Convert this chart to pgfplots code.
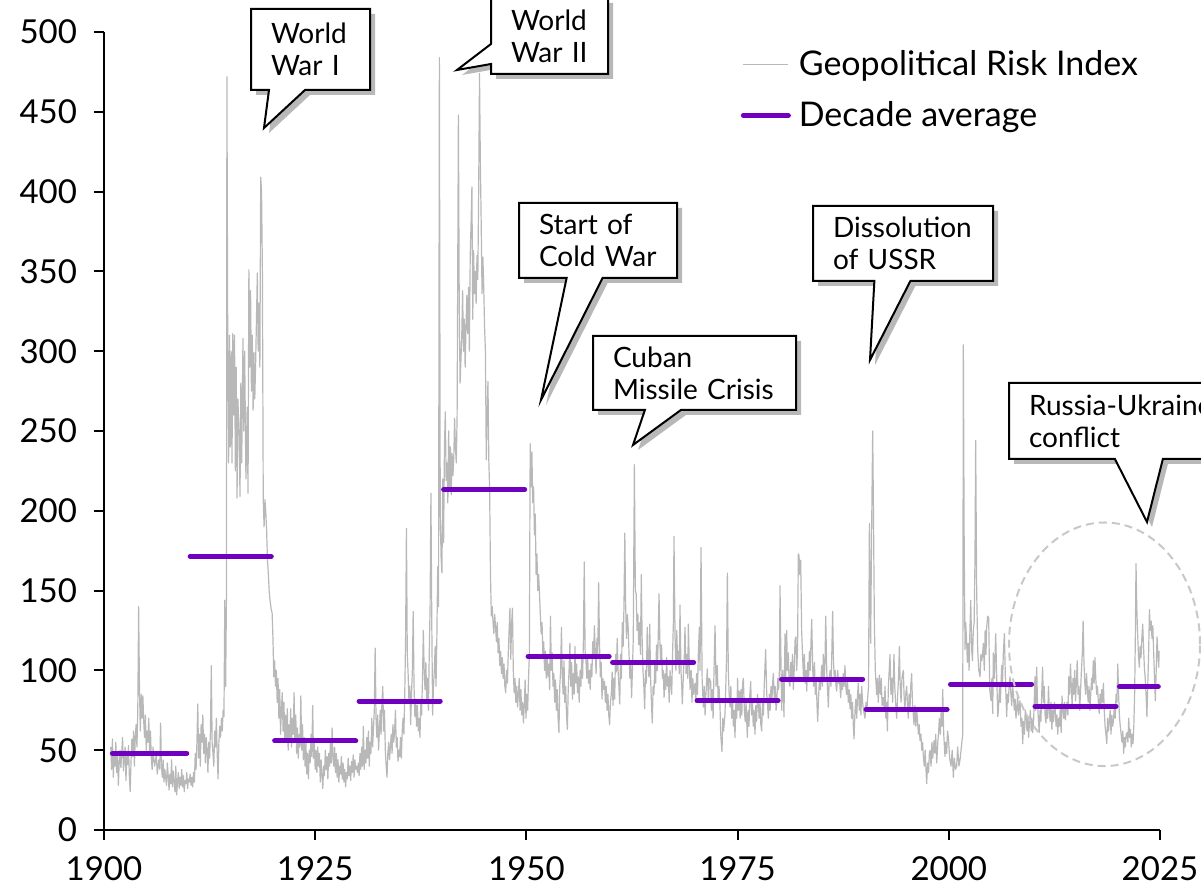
\documentclass[border=0pt]{standalone}
\usepackage{fontspec}
\setmainfont{Lato}
\usepackage{pgfplots}
\usepackage{pgfplotstable}
\pgfplotsset{compat=1.18}
\usetikzlibrary{shapes.callouts,shadows}
\definecolor{gprgray}{RGB}{184,184,184}
\definecolor{gprpurple}{RGB}{112,0,192}
\definecolor{ellgray}{RGB}{200,200,200}

\pgfplotstableread{
x y
1900.8 52
1900.9 38
1901.0 57
1901.1 33
1901.2 48
1901.3 40
1901.4 55
1901.5 36
1901.6 47
1901.7 28
1901.8 42
1901.9 50
1902.0 39
1902.2 58
1902.3 37
1902.4 45
1902.5 52
1902.6 31
1902.7 46
1902.8 41
1902.9 53
1903.0 34
1903.1 24
1903.2 43
1903.3 57
1903.4 46
1903.5 62
1903.6 40
1903.7 58
1903.8 66
1903.9 52
1904.0 75
1904.1 140
1904.2 88
1904.3 62
1904.4 85
1904.5 70
1904.6 84
1904.7 68
1904.8 58
1904.9 72
1905.0 50
1905.1 62
1905.2 55
1905.3 70
1905.4 48
1905.5 62
1905.6 45
1905.7 38
1905.8 52
1905.9 44
1906.0 40
1906.2 48
1906.3 35
1906.5 44
1906.6 38
1906.7 67
1906.8 40
1906.9 33
1907.0 44
1907.1 30
1907.2 38
1907.4 28
1907.5 42
1907.6 34
1907.7 25
1907.8 35
1907.9 29
1908.0 44
1908.1 27
1908.2 37
1908.3 30
1908.4 24
1908.5 40
1908.6 22
1908.7 30
1908.8 36
1908.9 26
1909.0 33
1909.1 28
1909.2 38
1909.3 27
1909.4 34
1909.5 24
1909.6 31
1909.7 29
1909.8 36
1909.9 26
1910.0 32
1910.1 30
1910.2 35
1910.3 28
1910.4 33
1910.5 27
1910.6 36
1910.7 30
1910.8 48
1910.9 38
1911.0 55
1911.1 79
1911.2 45
1911.3 60
1911.4 40
1911.5 66
1911.6 55
1911.7 72
1911.8 48
1911.9 60
1912.0 42
1912.1 58
1912.2 50
1912.3 36
1912.4 55
1912.5 45
1912.6 62
1912.7 103
1912.8 55
1912.9 48
1913.0 40
1913.1 62
1913.2 52
1913.3 70
1913.4 48
1913.5 32
1913.6 55
1913.7 65
1913.8 58
1913.9 70
1914.0 62
1914.1 75
1914.2 71
1914.3 144
1914.4 90
1914.5 150
1914.55 472
1914.65 300
1914.75 230
1914.85 310
1914.95 240
1915.05 300
1915.15 230
1915.25 311
1915.35 260
1915.45 310
1915.55 225
1915.65 290
1915.75 208
1915.85 270
1916.0 246
1916.1 209
1916.2 280
1916.3 230
1916.45 308
1916.55 250
1916.65 300
1916.8 220
1916.95 265
1917.05 211
1917.15 351
1917.25 290
1917.35 338
1917.45 275
1917.55 310
1917.65 263
1917.75 299
1917.85 270
1917.95 293
1918.05 320
1918.15 349
1918.25 300
1918.35 330
1918.45 290
1918.55 409
1918.65 400
1918.75 350
1918.85 207
1918.95 190
1919.05 207
1919.15 199
1919.25 188
1919.35 169
1919.45 161
1919.55 150
1919.65 144
1919.8 138
1919.9 136
1920.0 120
1920.1 96
1920.2 106
1920.3 90
1920.4 100
1920.5 80
1920.6 95
1920.7 70
1920.8 88
1920.9 60
1921.0 75
1921.1 86
1921.2 62
1921.3 80
1921.4 55
1921.5 72
1921.6 58
1921.7 76
1921.8 50
1921.9 66
1922.0 58
1922.1 76
1922.2 52
1922.3 70
1922.4 60
1922.5 86
1922.6 55
1922.7 72
1922.8 48
1922.9 64
1923.0 45
1923.1 60
1923.2 52
1923.3 84
1923.4 50
1923.5 66
1923.6 44
1923.7 58
1923.8 40
1923.9 55
1924.0 35
1924.1 48
1924.2 32
1924.3 50
1924.4 42
1924.5 60
1924.6 46
1924.7 78
1924.8 45
1924.9 55
1925.0 38
1925.1 50
1925.2 36
1925.3 52
1925.4 40
1925.5 48
1925.6 30
1925.7 44
1925.8 35
1925.9 26
1926.0 40
1926.1 34
1926.2 50
1926.3 38
1926.4 46
1926.5 32
1926.6 48
1926.7 40
1926.8 55
1926.9 42
1927.0 64
1927.1 45
1927.2 40
1927.3 52
1927.4 36
1927.5 48
1927.6 33
1927.7 44
1927.8 30
1927.9 40
1928.0 35
1928.1 46
1928.2 32
1928.3 42
1928.4 30
1928.5 38
1928.6 27
1928.7 36
1928.8 32
1928.9 45
1929.0 34
1929.1 40
1929.2 31
1929.3 43
1929.4 36
1929.5 47
1929.6 33
1929.7 44
1929.8 38
1929.9 40
1930.0 36
1930.1 42
1930.2 34
1930.3 48
1930.4 38
1930.5 52
1930.6 40
1930.7 65
1930.8 38
1930.9 50
1931.0 42
1931.1 58
1931.2 45
1931.3 62
1931.4 40
1931.5 55
1931.6 48
1931.7 70
1931.8 52
1931.9 64
1932.0 75
1932.1 114
1932.2 70
1932.3 58
1932.4 72
1932.5 50
1932.6 62
1932.7 75
1932.8 60
1932.9 80
1933.0 90
1933.1 62
1933.2 75
1933.3 50
1933.4 40
1933.5 33
1933.6 48
1933.7 55
1933.8 44
1933.9 52
1934.0 60
1934.1 48
1934.2 66
1934.3 55
1934.4 62
1934.5 75
1934.6 52
1934.7 58
1934.8 43
1934.9 50
1935.0 46
1935.1 58
1935.2 45
1935.3 62
1935.4 70
1935.5 60
1935.6 85
1935.7 120
1935.8 189
1935.9 110
1936.0 98
1936.1 80
1936.2 90
1936.3 66
1936.4 85
1936.5 100
1936.6 137
1936.7 90
1936.8 71
1936.9 82
1937.0 65
1937.1 78
1937.2 62
1937.3 70
1937.4 58
1937.5 80
1937.6 72
1937.7 95
1937.8 125
1937.9 100
1938.0 88
1938.1 105
1938.2 80
1938.3 95
1938.4 75
1938.5 110
1938.6 140
1938.7 211
1938.8 130
1938.9 72
1939.0 90
1939.1 100
1939.2 115
1939.3 90
1939.4 120
1939.5 165
1939.6 140
1939.7 484
1939.8 200
1939.9 171
1940.0 161
1940.1 220
1940.2 180
1940.3 240
1940.4 262
1940.5 219
1940.6 230
1940.7 205
1940.8 250
1940.9 215
1941.0 240
1941.1 210
1941.2 236
1941.3 222
1941.4 232
1941.5 258
1941.6 240
1941.7 230
1941.8 260
1941.95 448
1942.05 330
1942.15 280
1942.25 294
1942.35 310
1942.45 338
1942.55 300
1942.65 320
1942.75 290
1942.85 315
1942.95 335
1943.05 311
1943.15 340
1943.25 300
1943.35 360
1943.45 380
1943.55 403
1943.65 320
1943.75 363
1943.85 336
1943.95 350
1944.05 330
1944.15 360
1944.25 345
1944.35 400
1944.45 474
1944.55 418
1944.65 380
1944.75 336
1944.85 359
1944.95 340
1945.05 315
1945.15 300
1945.25 232
1945.35 260
1945.45 281
1945.55 232
1945.65 213
1945.75 159
1945.85 134
1945.95 140
1946.05 130
1946.15 123
1946.25 135
1946.35 127
1946.45 118
1946.55 130
1946.65 111
1946.75 120
1946.85 103
1946.95 112
1947.05 98
1947.15 108
1947.25 95
1947.35 104
1947.45 90
1947.55 86
1947.65 100
1947.75 92
1947.85 110
1947.95 125
1948.05 139
1948.15 107
1948.25 130
1948.35 139
1948.45 100
1948.55 86
1948.65 95
1948.75 80
1948.85 90
1948.95 77
1949.05 85
1949.15 95
1949.25 75
1949.35 88
1949.45 72
1949.55 80
1949.65 67
1949.75 78
1949.85 94
1949.95 70
1950.05 85
1950.15 75
1950.25 95
1950.35 110
1950.45 242
1950.55 215
1950.65 237
1950.75 205
1950.85 215
1950.95 185
1951.05 198
1951.15 160
1951.25 173
1951.35 150
1951.45 160
1951.55 148
1951.65 135
1951.75 123
1951.85 130
1951.95 110
1952.05 118
1952.15 100
1952.25 112
1952.35 95
1952.45 108
1952.55 96
1952.65 104
1952.75 88
1952.85 134
1952.95 100
1953.05 111
1953.15 90
1953.25 98
1953.35 80
1953.45 94
1953.55 75
1953.65 88
1953.75 70
1953.85 61
1953.95 90
1954.05 100
1954.15 127
1954.25 96
1954.35 85
1954.45 106
1954.55 80
1954.65 90
1954.75 72
1954.85 63
1954.95 88
1955.05 100
1955.15 117
1955.25 90
1955.35 105
1955.45 82
1955.55 98
1955.65 85
1955.75 115
1955.85 92
1955.95 104
1956.05 86
1956.15 96
1956.25 80
1956.35 100
1956.45 90
1956.55 110
1956.65 95
1956.75 120
1956.85 168
1956.95 112
1957.05 106
1957.15 95
1957.25 110
1957.35 92
1957.45 100
1957.55 88
1957.65 104
1957.75 96
1957.85 118
1957.95 108
1958.05 128
1958.15 112
1958.25 98
1958.35 120
1958.45 110
1958.55 155
1958.65 118
1958.75 96
1958.85 105
1958.95 82
1959.05 95
1959.15 88
1959.25 93
1959.35 80
1959.45 90
1959.55 75
1959.65 85
1959.75 72
1959.85 66
1959.95 80
1960.05 85
1960.15 99
1960.25 78
1960.35 95
1960.45 82
1960.55 110
1960.65 99
1960.75 120
1960.85 100
1960.95 90
1961.05 79
1961.15 110
1961.25 95
1961.35 130
1961.45 115
1961.55 140
1961.65 186
1961.75 140
1961.85 120
1961.95 135
1962.05 127
1962.15 110
1962.25 95
1962.35 105
1962.45 83
1962.55 100
1962.65 120
1962.78 229
1962.9 150
1963.0 148
1963.1 125
1963.2 135
1963.3 116
1963.4 130
1963.5 110
1963.6 160
1963.7 120
1963.8 100
1963.9 90
1964.0 76
1964.1 100
1964.2 92
1964.3 127
1964.4 105
1964.5 96
1964.6 129
1964.7 95
1964.8 80
1964.9 67
1965.0 90
1965.1 85
1965.2 105
1965.3 92
1965.4 116
1965.5 100
1965.6 120
1965.7 148
1965.8 118
1965.9 105
1966.0 116
1966.1 95
1966.2 100
1966.3 83
1966.4 98
1966.5 88
1966.6 108
1966.7 90
1966.8 96
1966.9 80
1967.0 100
1967.1 92
1967.2 85
1967.3 110
1967.4 130
1967.47 184
1967.6 120
1967.7 100
1967.8 125
1967.9 105
1968.0 112
1968.1 98
1968.18 141
1968.3 100
1968.4 88
1968.46 79
1968.6 100
1968.7 110
1968.77 127
1968.9 98
1969.0 110
1969.1 95
1969.17 129
1969.3 100
1969.37 88
1969.5 100
1969.6 80
1969.7 95
1969.8 85
1969.96 92
1970.05 80
1970.15 98
1970.25 85
1970.35 110
1970.47 127
1970.55 100
1970.67 177
1970.8 95
1970.94 77
1971.05 90
1971.15 72
1971.25 85
1971.42 101
1971.55 80
1971.65 95
1971.81 93
1971.9 75
1972.0 88
1972.1 70
1972.2 98
1972.33 128
1972.45 90
1972.6 103
1972.7 80
1972.8 90
1972.92 77
1973.0 60
1973.15 49
1973.25 70
1973.35 62
1973.51 73
1973.6 90
1973.7 110
1973.79 161
1973.9 100
1974.0 85
1974.1 77
1974.2 90
1974.3 70
1974.4 82
1974.5 65
1974.6 75
1974.69 58
1974.8 80
1974.9 70
1975.0 95
1975.1 75
1975.21 87
1975.3 70
1975.4 88
1975.5 72
1975.6 92
1975.68 95
1975.8 75
1975.9 68
1976.0 80
1976.15 58
1976.25 75
1976.35 65
1976.45 85
1976.55 93
1976.65 72
1976.75 82
1976.85 65
1976.95 75
1977.06 60
1977.15 78
1977.25 68
1977.35 85
1977.46 79
1977.55 70
1977.65 80
1977.75 66
1977.85 62
1977.95 80
1978.05 72
1978.15 90
1978.32 113
1978.45 85
1978.55 78
1978.64 70
1978.75 85
1978.85 75
1978.95 90
1979.05 80
1979.15 92
1979.23 98
1979.35 82
1979.45 90
1979.55 75
1979.63 79
1979.75 95
1979.85 88
1979.95 100
1980.02 153
1980.12 110
1980.22 75
1980.35 100
1980.49 71
1980.61 123
1980.7 95
1980.81 125
1980.9 100
1981.0 111
1981.1 92
1981.2 90
1981.3 105
1981.4 95
1981.5 110
1981.6 88
1981.7 100
1981.8 119
1981.9 121
1982.0 100
1982.1 115
1982.19 173
1982.27 172
1982.37 160
1982.47 169
1982.58 125
1982.7 108
1982.8 95
1982.9 110
1983.0 92
1983.1 100
1983.18 87
1983.3 105
1983.4 95
1983.5 112
1983.6 100
1983.7 120
1983.77 132
1983.9 100
1984.0 90
1984.1 105
1984.2 85
1984.3 95
1984.4 78
1984.48 68
1984.6 85
1984.7 95
1984.8 88
1984.95 103
1985.05 90
1985.15 110
1985.25 95
1985.35 105
1985.43 134
1985.55 100
1985.65 88
1985.74 77
1985.85 95
1985.95 100
1986.05 90
1986.15 110
1986.25 137
1986.35 105
1986.45 95
1986.55 100
1986.65 90
1986.73 87
1986.85 100
1986.95 92
1987.05 95
1987.2 83
1987.3 95
1987.4 88
1987.5 98
1987.6 90
1987.71 103
1987.8 90
1987.9 85
1988.0 95
1988.1 80
1988.2 88
1988.31 76
1988.4 85
1988.5 70
1988.6 80
1988.7 65
1988.78 57
1988.9 75
1989.0 82
1989.1 70
1989.2 85
1989.29 92
1989.4 75
1989.5 85
1989.6 72
1989.69 90
1989.8 80
1989.9 75
1990.08 70
1990.2 80
1990.3 75
1990.4 83
1990.5 90
1990.6 192
1990.68 150
1990.75 117
1990.85 180
1990.99 250
1991.08 200
1991.19 130
1991.3 100
1991.46 85
1991.55 95
1991.65 80
1991.78 97
1991.9 85
1992.0 95
1992.1 78
1992.25 83
1992.35 75
1992.45 90
1992.55 70
1992.63 80
1992.73 62
1992.85 90
1993.04 110
1993.15 85
1993.25 95
1993.35 80
1993.51 110
1993.6 90
1993.7 80
1993.83 70
1993.95 85
1994.05 95
1994.15 115
1994.25 90
1994.35 80
1994.45 95
1994.62 100
1994.7 85
1994.8 75
1994.9 85
1995.01 90
1995.1 80
1995.2 70
1995.3 85
1995.4 75
1995.5 90
1995.6 98
1995.7 80
1995.8 72
1995.88 66
1996.0 78
1996.1 65
1996.2 75
1996.28 70
1996.4 60
1996.5 66
1996.59 56
1996.7 60
1996.8 50
1996.9 55
1996.99 46
1997.1 40
1997.2 50
1997.3 38
1997.38 29
1997.5 42
1997.6 36
1997.7 48
1997.78 50
1997.9 40
1998.0 55
1998.1 45
1998.25 56
1998.35 48
1998.45 60
1998.57 42
1998.7 55
1998.8 62
1998.88 70
1999.0 60
1999.1 75
1999.2 65
1999.28 88
1999.4 60
1999.55 46
1999.65 55
1999.75 48
1999.85 62
1999.95 58
2000.1 45
2000.26 40
2000.4 50
2000.54 33
2000.65 45
2000.8 38
2000.93 40
2001.05 52
2001.2 40
2001.33 44
2001.45 50
2001.55 55
2001.65 60
2001.72 304
2001.82 180
2001.92 113
2002.0 130
2002.1 119
2002.2 105
2002.31 117
2002.4 100
2002.5 125
2002.6 144
2002.71 113
2002.8 106
2002.9 125
2003.0 130
2003.1 170
2003.18 244
2003.3 150
2003.42 113
2003.55 100
2003.7 96
2003.8 110
2003.9 106
2004.0 110
2004.09 117
2004.2 100
2004.3 125
2004.4 110
2004.48 127
2004.6 134
2004.72 133
2004.85 88
2005.0 81
2005.1 95
2005.2 73
2005.27 111
2005.4 95
2005.55 123
2005.65 100
2005.8 71
2005.87 75
2006.0 90
2006.1 80
2006.26 103
2006.35 90
2006.45 110
2006.58 123
2006.7 95
2006.85 71
2006.95 85
2007.05 80
2007.15 92
2007.25 96
2007.35 85
2007.45 78
2007.55 90
2007.64 86
2007.75 75
2007.85 82
2007.95 70
2008.04 75
2008.15 85
2008.25 72
2008.35 78
2008.43 81
2008.55 65
2008.65 70
2008.75 54
2008.85 68
2008.95 60
2009.05 75
2009.14 73
2009.25 62
2009.35 70
2009.45 58
2009.54 67
2009.65 75
2009.75 62
2009.85 70
2009.93 61
2010.05 70
2010.2 96
2010.3 75
2010.4 102
2010.5 80
2010.6 70
2010.7 61
2010.8 75
2010.9 68
2011.0 85
2011.1 102
2011.2 80
2011.3 90
2011.4 72
2011.5 67
2011.6 78
2011.7 70
2011.8 90
2011.9 75
2012.0 68
2012.1 80
2012.2 63
2012.3 75
2012.4 68
2012.5 80
2012.6 75
2012.7 65
2012.8 72
2012.9 60
2013.0 70
2013.1 65
2013.2 78
2013.3 61
2013.4 84
2013.5 75
2013.6 70
2013.7 80
2013.8 69
2013.9 75
2014.0 80
2014.1 72
2014.2 96
2014.3 85
2014.4 104
2014.5 90
2014.6 78
2014.7 95
2014.8 85
2014.9 100
2015.0 81
2015.1 92
2015.2 106
2015.3 85
2015.4 90
2015.5 75
2015.6 88
2015.7 100
2015.8 110
2015.9 131
2016.0 105
2016.1 92
2016.2 85
2016.3 98
2016.4 88
2016.5 80
2016.6 90
2016.7 75
2016.8 85
2016.9 95
2017.0 88
2017.1 106
2017.2 92
2017.3 108
2017.4 95
2017.5 85
2017.6 90
2017.7 80
2017.8 73
2017.9 85
2018.0 78
2018.1 88
2018.2 80
2018.3 92
2018.4 75
2018.5 65
2018.6 60
2018.7 54
2018.8 70
2018.9 62
2019.0 68
2019.1 75
2019.2 60
2019.3 72
2019.4 65
2019.5 69
2019.6 78
2019.7 70
2019.8 85
2019.9 80
2020.0 104
2020.1 85
2020.2 71
2020.3 65
2020.4 60
2020.5 55
2020.6 62
2020.7 48
2020.8 58
2020.9 52
2021.0 60
2021.1 61
2021.2 55
2021.3 70
2021.4 58
2021.5 63
2021.6 52
2021.7 60
2021.8 54
2021.9 65
2022.0 86
2022.08 120
2022.16 167
2022.25 140
2022.35 123
2022.45 110
2022.55 102
2022.65 115
2022.75 108
2022.85 120
2022.95 129
2023.05 115
2023.15 102
2023.25 95
2023.35 85
2023.45 71
2023.55 90
2023.65 110
2023.75 138
2023.85 125
2023.95 131
2024.05 120
2024.15 128
2024.25 111
2024.35 95
2024.45 81
2024.55 100
2024.65 121
2024.75 110
2024.85 102
2024.9 112
}\gprdata

\pgfplotstableread{
x y
1901.0 48.0
1909.8 48.0
nan nan
1910.2 171.5
1919.8 171.5
nan nan
1920.2 55.8
1929.8 55.8
nan nan
1930.2 80.8
1939.8 80.8
nan nan
1940.2 213.3
1949.8 213.3
nan nan
1950.2 108.6
1959.8 108.6
nan nan
1960.2 105.0
1969.8 105.0
nan nan
1970.2 81.1
1979.8 81.1
nan nan
1980.2 94.6
1989.8 94.6
nan nan
1990.2 75.6
1999.8 75.6
nan nan
2000.2 91.3
2009.8 91.3
nan nan
2010.2 77.4
2019.8 77.4
nan nan
2020.2 89.8
2024.8 89.8
}\decdata

\tikzset{
  gprcallout/.style={rectangle callout, draw=black, line width=1pt, fill=white,
    drop shadow={shadow xshift=2.5pt, shadow yshift=-2.5pt, fill=black, opacity=0.28},
    anchor=north west, align=left, inner xsep=10pt, inner ysep=3pt,
    font=\fontsize{14}{16}\selectfont, callout pointer width=18pt}
}

\begin{document}
\begin{tikzpicture}
\begin{axis}[
  at={(0pt,0pt)}, anchor=south west,
  scale only axis, width=528pt, height=399pt,
  xmin=1900, xmax=2025, ymin=0, ymax=500,
  axis x line*=bottom, axis y line*=left,
  axis line style={line width=1pt, black, -},
  xtick={1900,1925,...,2025}, ytick={0,50,...,500},
  minor tick num=0,
  tick align=outside, major tick length=5pt,
  tick style={line width=1pt, black},
  /pgf/number format/1000 sep={},
  /pgf/number format/assume math mode=true,
  ticklabel style={font=\fontsize{16.5}{19}\selectfont},
  yticklabel style={xshift=-5pt},
  xticklabel style={yshift=-5pt},
  clip=false,
  unbounded coords=jump,
  legend style={at={(0.6027,0.9825)}, anchor=north west, draw=none, fill=none,
    font=\fontsize{17}{20}\selectfont, row sep=7.5pt, inner sep=0pt,
    legend cell align=left},
  legend image code/.code={\draw[#1] (0pt,0pt) -- (22.5pt,0pt); \path (24.5pt,0pt);},
]
\addplot[gprgray, line width=0.6pt, line join=round] table[x=x,y=y] {\gprdata};
\addlegendentry{Geopolitical Risk Index}
\addplot[gprpurple, line width=2.5pt, line cap=round] table[x=x,y=y] {\decdata};
\addlegendentry{Decade average}
\end{axis}

\draw[ellgray, line width=1pt, dash pattern=on 4pt off 2.5pt] (500.25pt,92.85pt) ellipse [x radius=47.75pt, y radius=60.9pt];

\node[gprcallout, minimum width=59.5pt, minimum height=40.5pt, text width=39.5pt,
  callout absolute pointer={(80pt,351pt)}] at (73pt,411pt) {\mbox{World}\\\mbox{War I}};
\node[gprcallout, minimum width=58.5pt, minimum height=38pt, text width=38.5pt,
  callout absolute pointer={(176.5pt,380pt)}, callout pointer width=10pt] at (193pt,416.5pt) {\mbox{World}\\\mbox{War II}};
\node[gprcallout, minimum width=79pt, minimum height=37.5pt, text width=59pt,
  callout absolute pointer={(218.5pt,215pt)}] at (207pt,314pt) {\mbox{Start of}\\\mbox{Cold War}};
\node[gprcallout, minimum width=101.5pt, minimum height=37pt, text width=81.5pt,
  callout absolute pointer={(264.5pt,192.5pt)}] at (244pt,247.5pt) {\mbox{Cuban}\\\mbox{Missile Crisis}};
\node[gprcallout, minimum width=90pt, minimum height=37.5pt, text width=70pt,
  callout absolute pointer={(383pt,235pt)}] at (354pt,312.5pt) {\mbox{Dissolution}\\\mbox{of USSR}};
\node[gprcallout, minimum width=125pt, minimum height=38pt, text width=105pt,
  callout absolute pointer={(521.5pt,154pt)}, callout pointer width=24pt] at (452pt,224pt) {\mbox{Russia-Ukraine}\\\mbox{conflict}};

\pgfresetboundingbox
\useasboundingbox (-52pt,-29pt) rectangle (548.5pt,415pt);
\end{tikzpicture}
\end{document}
